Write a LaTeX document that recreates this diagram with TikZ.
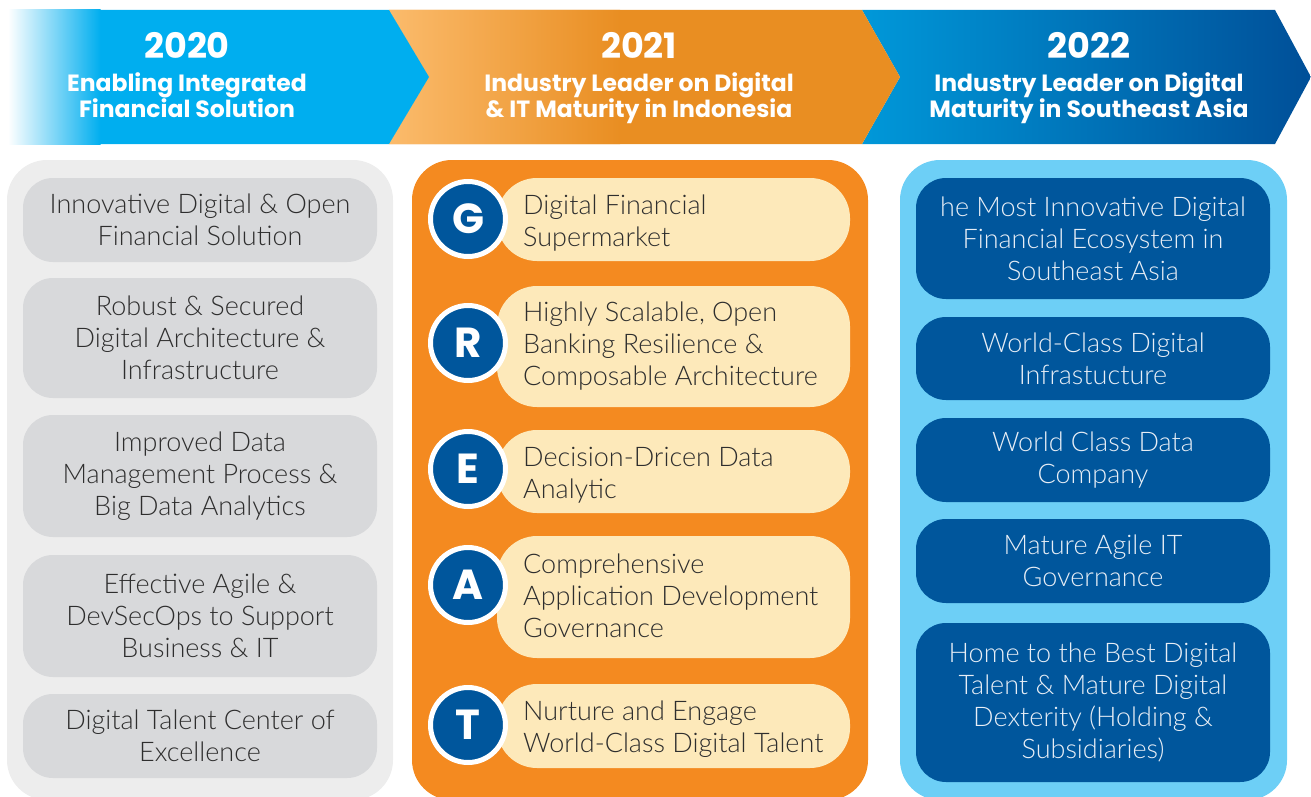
\documentclass[tikz,border=0pt]{standalone}
\usepackage{fontspec}
\newfontfamily\bodyfont{Lato Light}
\newfontfamily\headfont{Poppins}
\definecolor{cyanA}{HTML}{00AEEF}
\definecolor{orgL}{HTML}{FBBB6C}
\definecolor{orgD}{HTML}{E98E22}
\definecolor{bluL}{HTML}{0098D9}
\definecolor{bluD}{HTML}{004F98}
\definecolor{grayPanel}{HTML}{EDEDED}
\definecolor{grayBox}{HTML}{D8D9DB}
\definecolor{grayText}{HTML}{2E2E2E}
\definecolor{orgPanel}{HTML}{F48A20}
\definecolor{cream}{HTML}{FDE9BA}
\definecolor{navy}{HTML}{00569C}
\definecolor{skyPanel}{HTML}{6DCFF6}
\definecolor{boxText}{HTML}{E8EEF6}
\begin{document}
\begin{tikzpicture}[x=1pt,y=-1pt,
  bodytxt/.style={font=\bodyfont\fontsize{27}{32}\selectfont, align=center, inner sep=0pt},
  graybox/.style={bodytxt, fill=grayBox, text=grayText, rounded corners=30pt, minimum width=354pt},
  pill/.style={fill=cream, rounded corners=40pt, minimum width=353pt, inner sep=0pt},
  pilltxt/.style={font=\bodyfont\fontsize{27}{32}\selectfont, align=left, inner sep=0pt, anchor=west, text=grayText},
  letter/.style={circle, fill=navy, draw=white, line width=5pt, minimum size=75pt, inner sep=0pt,
     text=white, font=\headfont\bfseries\fontsize{42}{42}\selectfont},
  bluebox/.style={bodytxt, fill=navy, text=boxText, rounded corners=30pt, minimum width=354pt},
  year/.style={font=\headfont\bfseries\fontsize{35}{35}\selectfont, text=white, anchor=base, inner sep=0pt},
  sub/.style={font=\headfont\bfseries\fontsize{23.5}{25.5}\selectfont, text=white, anchor=base, align=center, inner sep=0pt}
]
\useasboundingbox (0,0) rectangle (1311,797);
% header bands
\shade[left color=bluL, right color=bluD] (862,10) -- (1275,10) -- (1311,77) -- (1275,144) -- (862,144) -- (900,77) -- cycle;
\fill[orgD] (389,10) -- (862,10) -- (900,77) -- (862,144) -- (389,144) -- (429,77) -- cycle;
\begin{scope}
\clip (389,10) -- (862,10) -- (900,77) -- (862,144) -- (389,144) -- (429,77) -- cycle;
\shade[left color=orgL, right color=orgD] (389,10) rectangle (620,144);
\end{scope}
\fill[cyanA] (100,10) -- (389,10) -- (429,77) -- (389,144) -- (100,144) -- cycle;
\shade[left color=white, right color=cyanA] (8,10) rectangle (100.5,144);
\node[year] (y1) at (187,58.5) {2020};
\node[sub] (s1) at (187,117.5) {Enabling Integrated\\Financial Solution};
\node[year] (y2) at (639,58.5) {2021};
\node[sub] (s2) at (639,117.5) {Industry Leader on Digital\\\& IT Maturity in Indonesia};
\node[year] (y3) at (1089,58.5) {2022};
\node[sub] (s3) at (1089,117.5) {Industry Leader on Digital\\Maturity in Southeast Asia};
% panels
\fill[grayPanel, rounded corners=40pt] (7,160) rectangle (393,800);
\fill[orgPanel, rounded corners=40pt] (412,160) rectangle (868,800);
\fill[skyPanel, rounded corners=40pt] (900,160) rectangle (1287,800);
% gray column
\node[graybox, minimum height=84pt] (g1) at (200,220) {Innovative Digital \& Open\\Financial Solution};
\node[graybox, minimum height=120pt] (g2) at (200,338) {Robust \& Secured\\Digital Architecture \&\\Infrastructure};
\node[graybox, minimum height=122pt] (g3) at (200,476) {Improved Data\\Management Process \&\\Big Data Analytics};
\node[graybox, minimum height=122pt] (g4) at (200,616) {Effective Agile \&\\DevSecOps to Support\\Business \& IT};
\node[graybox, minimum height=84pt] (g5) at (200,736) {Digital Talent Center of\\Excellence};
% orange column
\node[pill, minimum height=83pt] (p1) at (673.5,219.5) {};
\node[pill, minimum height=121pt] (p2) at (673.5,346.5) {};
\node[pill, minimum height=83pt] (p3) at (673.5,471.5) {};
\node[pill, minimum height=122pt] (p4) at (673.5,597) {};
\node[pill, minimum height=84pt] (p5) at (673.5,726) {};
\node[pilltxt] (t1) at (523,223) {Digital Financial\\Supermarket};
\node[pilltxt] (t2) at (523,346) {Highly Scalable, Open\\Banking Resilience \&\\Composable Architecture};
\node[pilltxt] (t3) at (523,475) {Decision-Dricen Data\\Analytic};
\node[pilltxt] (t4) at (523,596) {Comprehensive\\Application Development\\Governance};
\node[pilltxt] (t5) at (523,729) {Nurture and Engage\\World-Class Digital Talent};
\node[letter] (cG) at (468,219) {G};
\node[letter] (cR) at (468,343) {R};
\node[letter] (cE) at (468,469) {E};
\node[letter] (cA) at (468,585) {A};
\node[letter] (cT) at (468,725) {T};
% blue column
\node[bluebox, minimum height=121pt] (b1) at (1093,238.5) {he Most Innovative Digital\\Financial Ecosystem in\\Southeast Asia};
\node[bluebox, minimum height=83pt] (b2) at (1093,358.5) {World-Class Digital\\Infrastucture};
\node[bluebox, minimum height=84pt] (b3) at (1093,460) {World Class Data\\Company};
\node[bluebox, minimum height=84pt] (b4) at (1093,561) {Mature Agile IT\\Governance};
\node[bluebox, minimum height=159pt] (b5) at (1093,702.5) {Home to the Best Digital\\Talent \& Mature Digital\\Dexterity (Holding \&\\Subsidiaries)};
\end{tikzpicture}
\end{document}
